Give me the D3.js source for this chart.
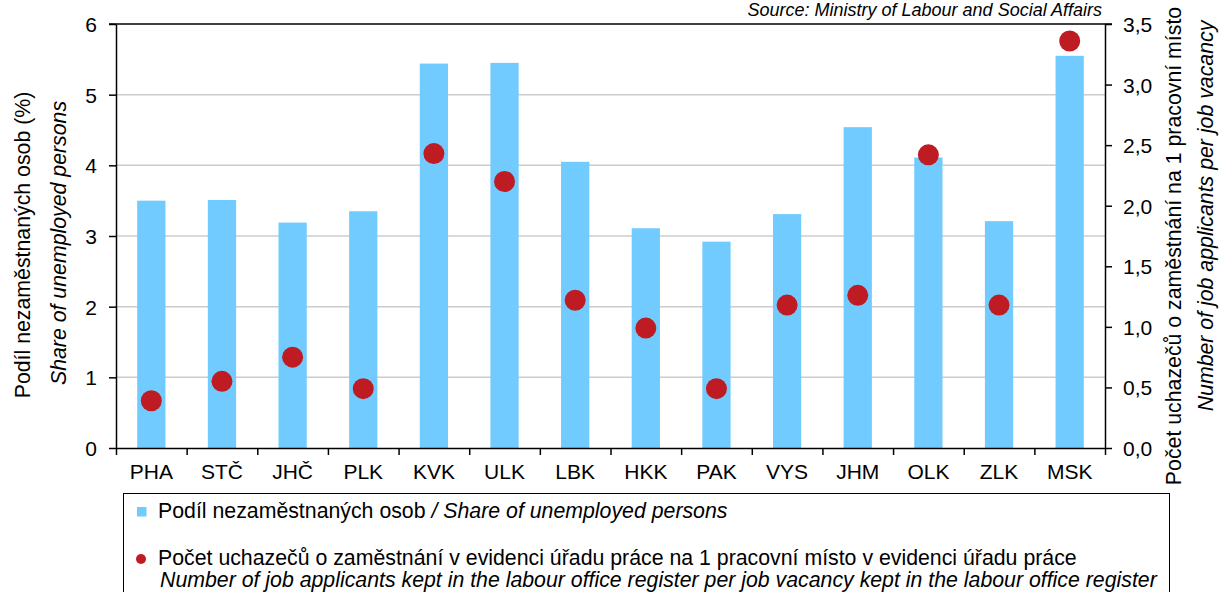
<!DOCTYPE html>
<html>
<head>
<meta charset="utf-8">
<script src="https://cdn.jsdelivr.net/npm/d3@7"></script>
<style>
	html, body { margin: 0; padding: 0; background: #fff; }
	svg { display: block; font-family: 'Liberation Sans', Arial, sans-serif; }
</style>
</head>
<body>
<svg id="chart" width="1219" height="592"></svg>
<script>
	'use strict';

	// regions (kraje)
	var regions = ['PHA', 'STČ', 'JHČ', 'PLK', 'KVK', 'ULK', 'LBK', 'HKK', 'PAK', 'VYS', 'JHM', 'OLK', 'ZLK', 'MSK'];
	// share of unemployed persons (%)
	var shareUnemployed = [3.50, 3.51, 3.19, 3.35, 5.44, 5.45, 4.05, 3.11, 2.92, 3.31, 4.54, 4.11, 3.21, 5.55];
	// job applicants per job vacancy
	var applicantsPerVacancy = [0.39, 0.55, 0.75, 0.49, 2.43, 2.20, 1.22, 0.99, 0.49, 1.18, 1.26, 2.42, 1.18, 3.36];
	var leftTicks = [0, 1, 2, 3, 4, 5, 6];
	var rightTicks = [0, 0.5, 1, 1.5, 2, 2.5, 3, 3.5];

	var BAR_COLOR = '#72cbfe',
		DOT_COLOR = '#be1b23',
		GRID_COLOR = '#cccccc',
		TICK_FONT = 21,
		TEXT_FONT = 21.3;

	var plot = { left: 116, right: 1105, top: 24, bottom: 448 };

	var svg = d3.select('#chart');

	var x = d3.scaleBand()
		.domain(regions)
		.range([plot.left, plot.right])
		.paddingInner(0.6)
		.paddingOuter(0.3);

	// boundaries between categories for the bottom ticks
	var xEdge = d3.scaleLinear()
		.domain([0, regions.length])
		.range([plot.left, plot.right]);

	var yLeft = d3.scaleLinear().domain([0, 6]).range([plot.bottom, plot.top]);
	var yRight = d3.scaleLinear().domain([0, 3.5]).range([plot.bottom, plot.top]);

	var commaFmt = function(v) {
		return d3.format('.1f')(v).replace('.', ',');
	};

	// grid
	svg.append('g')
		.attr('class', 'grid')
		.selectAll('line')
		.data(leftTicks.filter(function(t) { return t > 0 && t < 6; }))
		.enter()
		.append('line')
		.attr('x1', plot.left)
		.attr('x2', plot.right)
		.attr('y1', function(d) { return yLeft(d); })
		.attr('y2', function(d) { return yLeft(d); })
		.attr('stroke', GRID_COLOR)
		.attr('stroke-width', 1.5);

	// bars
	svg.append('g')
		.selectAll('rect')
		.data(regions)
		.enter()
		.append('rect')
		.attr('x', function(d) { return x(d); })
		.attr('width', x.bandwidth())
		.attr('y', function(d, i) { return yLeft(shareUnemployed[i]); })
		.attr('height', function(d, i) { return plot.bottom - yLeft(shareUnemployed[i]); })
		.attr('fill', BAR_COLOR);

	// top frame
	svg.append('line')
		.attr('x1', plot.left - 7).attr('x2', plot.right + 7)
		.attr('y1', plot.top).attr('y2', plot.top)
		.attr('stroke', '#000').attr('stroke-width', 1.5);

	// left axis
	var leftAxis = svg.append('g')
		.attr('transform', 'translate(' + plot.left + ',0)')
		.call(d3.axisLeft(yLeft).tickValues(leftTicks).tickFormat(d3.format('d'))
			.tickSize(7).tickPadding(12).tickSizeOuter(0));

	// right axis
	var rightAxis = svg.append('g')
		.attr('transform', 'translate(' + plot.right + ',0)')
		.call(d3.axisRight(yRight).tickValues(rightTicks).tickFormat(commaFmt)
			.tickSize(7).tickPadding(11).tickSizeOuter(0));

	// bottom axis: ticks on category edges, labels in the middle
	var bottomTicks = svg.append('g')
		.attr('transform', 'translate(0,' + plot.bottom + ')')
		.call(d3.axisBottom(xEdge).tickValues(d3.range(regions.length + 1)).tickFormat('')
			.tickSize(7).tickSizeOuter(0));

	var bottomLabels = svg.append('g')
		.attr('transform', 'translate(0,' + plot.bottom + ')')
		.call(d3.axisBottom(x).tickSize(0).tickPadding(16));
	bottomLabels.select('.domain').remove();

	[leftAxis, rightAxis, bottomTicks].forEach(function(a) {
		a.selectAll('.domain, line').attr('stroke', '#000').attr('stroke-width', 1.5);
	});
	[leftAxis, rightAxis, bottomLabels].forEach(function(a) {
		a.selectAll('text')
			.attr('fill', '#000')
			.style('font-family', "'Liberation Sans', Arial, sans-serif")
			.style('font-size', TICK_FONT + 'px');
	});
	leftAxis.selectAll('text').attr('dy', '0.36em');
	rightAxis.selectAll('text').attr('dy', '0.36em');
	bottomLabels.selectAll('text').attr('dy', '0.71em');

	// dots
	svg.append('g')
		.selectAll('circle')
		.data(regions)
		.enter()
		.append('circle')
		.attr('cx', function(d) { return x(d) + x.bandwidth() / 2; })
		.attr('cy', function(d, i) { return yRight(applicantsPerVacancy[i]); })
		.attr('r', 10.5)
		.attr('fill', DOT_COLOR);

	// axis titles
	var titles = [
		{ text: 'Podíl nezaměstnaných osob (%)', x: 30, y: 245, italic: false },
		{ text: 'Share of unemployed persons', x: 66, y: 243, italic: true },
		{ text: 'Počet uchazečů o zaměstnání na 1 pracovní místo', x: 1181, y: 246, italic: false },
		{ text: 'Number of job applicants per job vacancy', x: 1213, y: 216, italic: true }
	];
	svg.append('g')
		.selectAll('text')
		.data(titles)
		.enter()
		.append('text')
		.attr('transform', function(d) { return 'translate(' + d.x + ',' + d.y + ') rotate(-90)'; })
		.attr('text-anchor', 'middle')
		.style('font-size', TEXT_FONT + 'px')
		.style('font-style', function(d) { return d.italic ? 'italic' : 'normal'; })
		.text(function(d) { return d.text; });

	// source
	svg.append('text')
		.attr('x', 1102)
		.attr('y', 16)
		.attr('text-anchor', 'end')
		.style('font-size', '18px')
		.style('font-style', 'italic')
		.text('Source: Ministry of Labour and Social Affairs');

	// legend
	var legend = svg.append('g');
	legend.append('rect')
		.attr('x', 123.5).attr('y', 493.5)
		.attr('width', 1046).attr('height', 120)
		.attr('fill', '#fff')
		.attr('stroke', '#000')
		.attr('stroke-width', 1);

	legend.append('rect')
		.attr('x', 137).attr('y', 507)
		.attr('width', 9.5).attr('height', 9.5)
		.attr('fill', BAR_COLOR);
	var l1 = legend.append('text')
		.attr('x', 158).attr('y', 518)
		.style('font-size', TEXT_FONT + 'px');
	l1.append('tspan').text('Podíl nezaměstnaných osob ');
	l1.append('tspan').style('font-style', 'italic').text('/ Share of unemployed persons');

	legend.append('circle')
		.attr('cx', 141).attr('cy', 559)
		.attr('r', 5)
		.attr('fill', DOT_COLOR);
	legend.append('text')
		.attr('x', 158).attr('y', 565)
		.style('font-size', TEXT_FONT + 'px')
		.text('Počet uchazečů o zaměstnání v evidenci úřadu práce na 1 pracovní místo v evidenci úřadu práce');
	legend.append('text')
		.attr('x', 160).attr('y', 587)
		.style('font-size', TEXT_FONT + 'px')
		.style('font-style', 'italic')
		.text('Number of job applicants kept in the labour office register per job vacancy kept in the labour office register');
</script>
</body>
</html>
